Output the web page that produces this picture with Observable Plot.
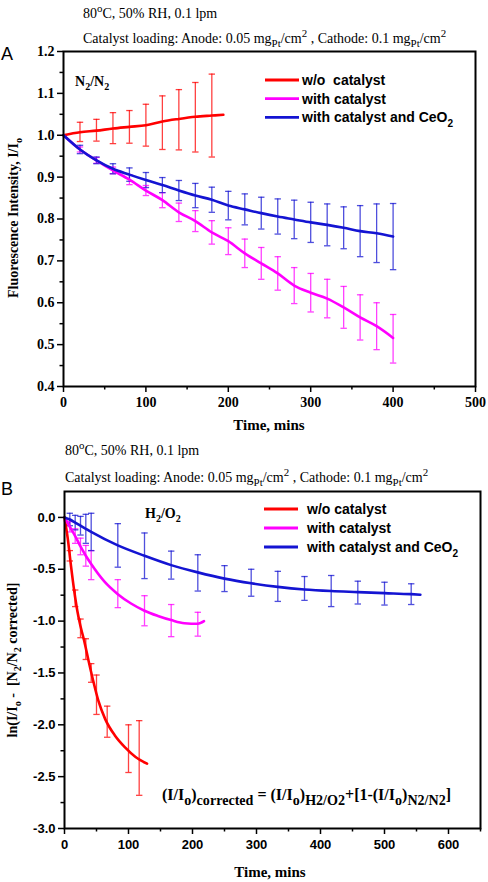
<!DOCTYPE html>
<html><head><meta charset="utf-8">
<script src="https://cdn.jsdelivr.net/npm/d3@7"></script>
<script src="https://cdn.jsdelivr.net/npm/@observablehq/plot@0.6"></script>
<style>
body{margin:0;background:#fff}
#root{width:488px}
#root svg{display:block}
</style>
</head><body><div id="root"></div>
<script>
// ---------- DATA: Panel A (N2/N2) ----------
const seriesNames = ["w/o catalyst", "with catalyst", "with catalyst and CeO2"];
const seriesColors = ["#ff0000", "#ff00ff", "#1414d2"];

const aRedT   = [0, 20, 40, 60, 80, 100, 120, 140, 160, 180, 194];
const aRedV   = [1.0, 1.007, 1.011, 1.016, 1.02, 1.024, 1.033, 1.039, 1.044, 1.047, 1.049];
const aRedBarT = [20, 40, 60, 80, 100, 120, 140, 160, 180];
const aRedBarC = [1.008, 1.012, 1.017, 1.02, 1.024, 1.03, 1.037, 1.043, 1.047];
const aRedBarE = [0.023, 0.026, 0.037, 0.039, 0.05, 0.064, 0.072, 0.083, 0.099];

const aMagT = [0, 20, 40, 60, 80, 100, 120, 140, 160, 180, 200, 220, 240, 260, 280, 300, 320, 340, 360, 380, 400];
const aMagV = [1.0, 0.966, 0.94, 0.916, 0.894, 0.868, 0.845, 0.816, 0.795, 0.768, 0.747, 0.718, 0.694, 0.67, 0.641, 0.624, 0.61, 0.589, 0.565, 0.544, 0.516];
const aMagBarT = [20, 40, 60, 80, 100, 120, 140, 160, 180, 200, 220, 240, 260, 280, 300, 320, 340, 360, 380, 400];
const aMagBarC = [0.966, 0.94, 0.916, 0.894, 0.868, 0.845, 0.816, 0.795, 0.768, 0.747, 0.718, 0.694, 0.67, 0.641, 0.624, 0.61, 0.589, 0.565, 0.544, 0.514];
const aMagBarE = [0.006, 0.007, 0.008, 0.012, 0.012, 0.018, 0.022, 0.025, 0.028, 0.032, 0.034, 0.038, 0.04, 0.043, 0.046, 0.046, 0.05, 0.054, 0.056, 0.058];

const aBluT = [0, 20, 40, 60, 80, 100, 120, 140, 160, 180, 200, 220, 240, 260, 280, 300, 320, 340, 360, 380, 400];
const aBluV = [1.0, 0.966, 0.94, 0.92, 0.906, 0.893, 0.881, 0.868, 0.856, 0.846, 0.832, 0.823, 0.814, 0.806, 0.799, 0.792, 0.786, 0.779, 0.771, 0.766, 0.758];
const aBluBarT = [20, 40, 60, 80, 100, 120, 140, 160, 180, 200, 220, 240, 260, 280, 300, 320, 340, 360, 380, 400];
const aBluBarC = [0.966, 0.94, 0.92, 0.906, 0.893, 0.881, 0.868, 0.856, 0.846, 0.832, 0.823, 0.814, 0.806, 0.799, 0.792, 0.786, 0.779, 0.771, 0.766, 0.758];
const aBluBarE = [0.01, 0.008, 0.012, 0.016, 0.018, 0.018, 0.024, 0.029, 0.03, 0.034, 0.037, 0.038, 0.042, 0.046, 0.048, 0.05, 0.05, 0.061, 0.07, 0.079];

const aXTicks = [0, 100, 200, 300, 400, 500];
const aXMinor = [50, 150, 250, 350, 450];
const aYTicks = [0.4, 0.5, 0.6, 0.7, 0.8, 0.9, 1.0, 1.1, 1.2];
const aYMinor = [0.45, 0.55, 0.65, 0.75, 0.85, 0.95, 1.05, 1.15];

// ---------- DATA: Panel B (H2/O2) ----------
const bRedT = [0, 5, 10, 15, 20, 25, 30, 37.5, 45, 53, 63.6, 79, 95, 111, 129];
const bRedV = [0, -0.2, -0.46, -0.7, -0.9, -1.05, -1.17, -1.38, -1.58, -1.77, -1.945, -2.105, -2.22, -2.31, -2.375];
const bRedBarT = [8.3, 16.7, 25, 33.3, 41.7, 50, 66.7, 100, 116.7];
const bRedBarC = [-0.37, -0.78, -1.07, -1.27, -1.5, -1.71, -1.97, -2.23, -2.32];
const bRedBarE = [0.05, 0.08, 0.09, 0.1, 0.09, 0.19, 0.15, 0.23, 0.36];

const bMagT = [0, 8.3, 16.7, 25, 33.3, 41.7, 62.5, 83.3, 104, 125, 146, 166.7, 187.5, 208.3, 218];
const bMagV = [0, -0.09, -0.18, -0.28, -0.37, -0.45, -0.62, -0.74, -0.83, -0.9, -0.95, -0.99, -1.02, -1.025, -1.0];
const bMagBarT = [8.3, 16.7, 25, 33.3, 41.7, 83.3, 125, 166.7, 208.3];
const bMagBarC = [-0.09, -0.18, -0.28, -0.37, -0.46, -0.735, -0.9, -0.995, -1.03];
const bMagBarE = [0.05, 0.07, 0.08, 0.1, 0.14, 0.135, 0.145, 0.155, 0.115];

const bBluT = [0, 8.3, 16.7, 25, 33.3, 41.7, 83.3, 125, 166.7, 208.3, 250, 291.7, 333.3, 375, 416.7, 458.3, 500, 541.7, 556];
const bBluV = [0, -0.02, -0.05, -0.08, -0.11, -0.14, -0.27, -0.37, -0.46, -0.53, -0.59, -0.635, -0.67, -0.695, -0.71, -0.72, -0.73, -0.74, -0.745];
const bBluBarT = [8.3, 16.7, 25, 33.3, 41.7, 83.3, 125, 166.7, 208.3, 250, 291.7, 333.3, 375, 416.7, 458.3, 500, 541.7];
const bBluBarC = [-0.02, -0.05, -0.08, -0.11, -0.14, -0.27, -0.37, -0.46, -0.535, -0.59, -0.63, -0.665, -0.685, -0.71, -0.725, -0.735, -0.74];
const bBluBarE = [0.06, 0.07, 0.09, 0.14, 0.18, 0.21, 0.22, 0.135, 0.175, 0.125, 0.13, 0.145, 0.115, 0.15, 0.11, 0.11, 0.1];

const bXTicks = [0, 100, 200, 300, 400, 500, 600];
const bXMinor = [50, 150, 250, 350, 450, 550, 650];
const bYTicks = [-3.0, -2.5, -2.0, -1.5, -1.0, -0.5, 0.0];
const bYMinor = [-2.75, -2.25, -1.75, -1.25, -0.75, -0.25];

// ---------- helpers ----------
const SERIF = "'Liberation Serif', 'Times New Roman', serif";
const SANS = "'Liberation Sans', Arial, sans-serif";

function lineRows(s, T, V) { return T.map((t, i) => ({s, t, v: V[i]})); }
function barRows(s, T, C, E) { return T.map((t, i) => ({s, t, lo: C[i] - E[i], hi: C[i] + E[i]})); }

const capSymbol = {draw(ctx, size) { const r = Math.sqrt(size / Math.PI); ctx.moveTo(-r, 0); ctx.lineTo(r, 0); }};

function rich(g, x, y, segs, o) {
  const size = o.size;
  const subScale = o.subScale || 0.72;
  const t = g.append("text")
    .attr("font-family", o.family).attr("font-size", size)
    .attr("font-weight", o.weight || "normal").attr("fill", "#000")
    .attr("text-anchor", o.anchor || "start");
  if (o.rotate) t.attr("transform", `translate(${x},${y}) rotate(-90)`);
  else t.attr("x", x).attr("y", y);
  let cur = 0;
  for (const [str, kind] of segs) {
    const off = kind === "sub" ? size * 0.32 : kind === "sup" ? -size * 0.42 : 0;
    const fs = kind ? size * subScale : size;
    t.append("tspan").attr("dy", off - cur).attr("font-size", fs).text(str);
    cur = off;
  }
  return t;
}

function makePanel(cfg) {
  const lines = [].concat(...cfg.lines.map(([s, T, V]) => lineRows(s, T, V)));
  const bars = [].concat(...cfg.bars.map(([s, T, C, E]) => barRows(s, T, C, E)));
  return Plot.plot({
    width: 488, height: cfg.height,
    marginTop: cfg.mt, marginRight: cfg.mr, marginBottom: cfg.mb, marginLeft: cfg.ml,
    style: {background: "#fff", overflow: "visible"},
    x: {domain: cfg.xDomain, label: null},
    y: {domain: cfg.yDomain, label: null},
    color: {domain: seriesNames, range: seriesColors},
    marks: [
      Plot.ruleX(bars, {x: "t", y1: "lo", y2: "hi", stroke: "s", strokeWidth: 1.3, strokeOpacity: 0.75}),
      Plot.dot(bars, {x: "t", y: "hi", symbol: capSymbol, r: 3.2, stroke: "s", strokeWidth: 1.3, strokeOpacity: 0.75}),
      Plot.dot(bars, {x: "t", y: "lo", symbol: capSymbol, r: 3.2, stroke: "s", strokeWidth: 1.3, strokeOpacity: 0.75}),
      Plot.line(lines, {x: "t", y: "v", z: "s", stroke: "s", strokeWidth: 2.6, curve: "monotone-x"}),
      Plot.axisX({ticks: cfg.xTicks, tickSize: 6, tickPadding: 5, tickFormat: d => String(d), label: null,
        fontSize: cfg.tickSize, fontWeight: "bold", fontFamily: cfg.tickFont, strokeWidth: 1.5}),
      Plot.axisX({ticks: cfg.xMinor, tickSize: 3.5, tickFormat: () => "", label: null, strokeWidth: 1.5}),
      Plot.axisY({ticks: cfg.yTicks, tickSize: 6, tickPadding: 3, tickFormat: d => d.toFixed(1), label: null,
        fontSize: cfg.tickSize, fontWeight: "bold", fontFamily: cfg.tickFont, strokeWidth: 1.5}),
      Plot.axisY({ticks: cfg.yMinor, tickSize: 3.5, tickFormat: () => "", label: null, strokeWidth: 1.5}),
      Plot.frame({stroke: "#000", strokeWidth: 2})
    ]
  });
}

function legend(g, x0, y0, dy, size, gap, labels) {
  labels.forEach((lab, i) => {
    const y = y0 + i * dy;
    g.append("line").attr("x1", x0).attr("x2", x0 + 34).attr("y1", y).attr("y2", y)
      .attr("stroke", seriesColors[i]).attr("stroke-width", 2.8);
    rich(g, x0 + gap, y + size * 0.36, lab, {size, family: SANS, weight: "bold"});
  });
}

const titleLine1 = [["80"], ["o", "sup"], ["C, 50% RH, 0.1 lpm"]];
const titleLine2 = [["Catalyst loading: Anode: 0.05 mg"], ["Pt", "sub"], ["/cm"], ["2", "sup"], [" , Cathode: 0.1 mg"], ["Pt", "sub"], ["/cm"], ["2", "sup"]];

// ---------- Panel A ----------
const chartA = makePanel({
  height: 440, mt: 51, mr: 13, mb: 54, ml: 63,
  xDomain: [0, 500], yDomain: [0.4, 1.2],
  xTicks: aXTicks, xMinor: aXMinor, yTicks: aYTicks, yMinor: aYMinor,
  tickSize: 14, tickFont: SERIF,
  lines: [[seriesNames[0], aRedT, aRedV], [seriesNames[1], aMagT, aMagV], [seriesNames[2], aBluT, aBluV]],
  bars: [[seriesNames[0], aRedBarT, aRedBarC, aRedBarE], [seriesNames[1], aMagBarT, aMagBarC, aMagBarE], [seriesNames[2], aBluBarT, aBluBarC, aBluBarE]]
});
document.getElementById("root").appendChild(chartA);
{
  const g = d3.select(chartA).append("g");
  rich(g, 83, 18, titleLine1, {size: 14, family: SERIF, subScale: 0.78});
  rich(g, 83, 43, titleLine2, {size: 14, family: SERIF, subScale: 0.78});
  g.append("text").attr("x", 7).attr("y", 60).attr("font-family", SANS).attr("font-size", 18).text("A");
  rich(g, 75, 86, [["N"], ["2", "sub"], ["/N"], ["2", "sub"]], {size: 14, family: SERIF, weight: "bold"});
  legend(g, 265, 80, 18.7, 14, 37, [[["w/o  catalyst"]], [["with catalyst"]], [["with catalyst and CeO"], ["2", "sub"]]]);
  rich(g, 18, 218, [["Fluorescence Intensity, I/I"], ["o", "sub"]], {size: 14, family: SERIF, weight: "bold", anchor: "middle", rotate: true});
  g.append("text").attr("x", 269).attr("y", 430).attr("text-anchor", "middle")
    .attr("font-family", SERIF).attr("font-weight", "bold").attr("font-size", 15).text("Time, mins");
}

// ---------- Panel B ----------
const chartB = makePanel({
  height: 442, mt: 51, mr: 8, mb: 54, ml: 64,
  xDomain: [0, 650], yDomain: [-3.0, 0.25],
  xTicks: bXTicks, xMinor: bXMinor, yTicks: bYTicks, yMinor: bYMinor,
  tickSize: 13, tickFont: SANS,
  lines: [[seriesNames[0], bRedT, bRedV], [seriesNames[1], bMagT, bMagV], [seriesNames[2], bBluT, bBluV]],
  bars: [[seriesNames[0], bRedBarT, bRedBarC, bRedBarE], [seriesNames[1], bMagBarT, bMagBarC, bMagBarE], [seriesNames[2], bBluBarT, bBluBarC, bBluBarE]]
});
document.getElementById("root").appendChild(chartB);
{
  const g = d3.select(chartB).append("g");
  rich(g, 65, 15, titleLine1, {size: 14, family: SERIF, subScale: 0.78});
  rich(g, 65, 42, titleLine2, {size: 14, family: SERIF, subScale: 0.78});
  g.append("text").attr("x", 7).attr("y", 55).attr("font-family", SANS).attr("font-size", 18).text("B");
  rich(g, 145, 78, [["H"], ["2", "sub"], ["/O"], ["2", "sub"]], {size: 14, family: SERIF, weight: "bold"});
  legend(g, 264, 69, 19, 14, 43, [[["w/o catalyst"]], [["with catalyst"]], [["with catalyst and CeO"], ["2", "sub"]]]);
  rich(g, 17, 220, [["ln(I/I"], ["o", "sub"], [" -  [N"], ["2", "sub"], ["/N"], ["2", "sub"], [" corrected]"]], {size: 14, family: SERIF, weight: "bold", anchor: "middle", rotate: true});
  rich(g, 162, 360, [["(I/I"], ["o", "sub"], [")"], ["corrected", "sub"], [" = (I/I"], ["o", "sub"], [")"], ["H2/O2", "sub"], ["+[1-(I/I"], ["o", "sub"], [")"], ["N2/N2", "sub"], ["]"]], {size: 16, family: SERIF, weight: "bold", subScale: 0.88});
  g.append("text").attr("x", 270).attr("y", 437).attr("text-anchor", "middle")
    .attr("font-family", SERIF).attr("font-weight", "bold").attr("font-size", 15).text("Time, mins");
}
</script>
</body></html>
